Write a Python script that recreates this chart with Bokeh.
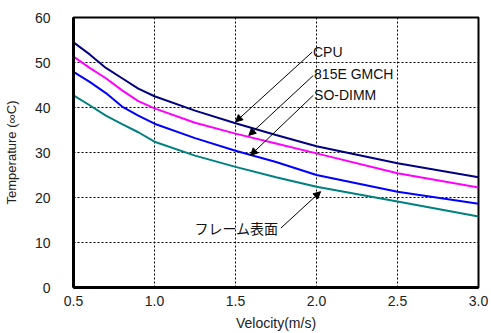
from bokeh.plotting import figure
from bokeh.models import Arrow, NormalHead, Label, FixedTicker, Range1d, CustomJSTickFormatter
from bokeh.embed import file_html
from bokeh.resources import INLINE

velocity = [0.5, 0.6, 0.7, 0.8, 0.9, 1.0, 1.25, 1.5, 1.75, 2.0, 2.5, 3.0]
cpu = [54.5, 51.8, 48.8, 46.5, 44.2, 42.5, 39.3, 36.5, 33.9, 31.4, 27.6, 24.5]
gmch = [51.3, 48.8, 46.5, 43.8, 41.4, 39.8, 36.6, 34.2, 32.0, 29.8, 25.4, 22.2]
sodimm = [47.9, 45.7, 43.2, 40.2, 38.2, 36.4, 33.2, 30.4, 27.9, 25.0, 21.3, 18.6]
frame = [42.7, 40.5, 38.2, 36.3, 34.5, 32.4, 29.3, 26.8, 24.5, 22.4, 19.1, 15.8]
x_ticks = [0.5, 1.0, 1.5, 2.0, 2.5, 3.0]
y_ticks = [0, 10, 20, 30, 40, 50, 60]

FONT = "Liberation Sans"

p = figure(width=491, height=333, output_backend="svg", toolbar_location=None,
           x_range=Range1d(0.5, 3.0), y_range=Range1d(0, 60),
           min_border_left=73, min_border_right=13, min_border_top=17, min_border_bottom=45)

p.line(velocity, cpu, line_color="#000080", line_width=2)
p.line(velocity, gmch, line_color="#FF00FF", line_width=2)
p.line(velocity, sodimm, line_color="#0000FF", line_width=2)
p.line(velocity, frame, line_color="#008080", line_width=2)

p.outline_line_color = "black"
p.outline_line_width = 2
p.outline_line_alpha = 1

p.xaxis.ticker = FixedTicker(ticks=x_ticks)
p.yaxis.ticker = FixedTicker(ticks=y_ticks)
p.xaxis.formatter = CustomJSTickFormatter(code="return tick.toFixed(1);")

for ax in (p.xaxis[0], p.yaxis[0]):
    ax.axis_line_width = 3
    ax.axis_line_color = "black"
    ax.major_tick_out = 0
    ax.major_tick_in = 0
    ax.minor_tick_out = 0
    ax.minor_tick_in = 0
    ax.major_label_text_font = FONT
    ax.major_label_text_font_size = "14px"
    ax.major_label_text_color = "#222222"
    ax.axis_label_text_font = FONT
    ax.axis_label_text_font_style = "normal"
    ax.axis_label_text_color = "#222222"

p.xaxis.axis_label = "Velocity(m/s)"
p.yaxis.axis_label = "Temperature (∞C)"
p.xaxis.axis_label_text_font_size = "14px"
p.yaxis.axis_label_text_font_size = "13px"
p.xaxis.major_label_standoff = 8
p.yaxis.major_label_standoff = 23
p.xaxis.axis_label_standoff = 6
p.yaxis.axis_label_standoff = 13

p.grid.grid_line_color = "black"
p.grid.grid_line_dash = "2 2"
p.grid.grid_line_width = 1
p.xgrid.ticker = FixedTicker(ticks=[1.0, 1.5, 2.0, 2.5])
p.ygrid.ticker = FixedTicker(ticks=[10, 20, 30, 40, 50])

# annotations: label text, text y, arrow start, arrow end
ann_names = ["CPU", "815E GMCH", "SO-DIMM"]
ann_text_y = [52.3, 47.4, 42.7]
ann_start = [(1.973, 52.3), (1.98, 47.1), (1.98, 42.7)]
ann_end = [(1.5, 36.8), (1.582, 33.8), (1.593, 29.4)]

for name, ty, s, e in zip(ann_names, ann_text_y, ann_start, ann_end):
    p.add_layout(Arrow(end=NormalHead(size=7, fill_color="black", line_color="black"),
                       x_start=s[0], y_start=s[1], x_end=e[0], y_end=e[1],
                       line_color="black", line_width=1))
    p.add_layout(Label(x=s[0] + 0.005, y=ty, text=name, text_font=FONT, text_font_size="14px",
                       text_baseline="middle", text_align="left", text_color="#111111"))

p.add_layout(Arrow(end=NormalHead(size=7, fill_color="black", line_color="black"),
                   x_start=1.78, y_start=13.2, x_end=2.025, y_end=21.3,
                   line_color="black", line_width=1))
p.add_layout(Label(x=1.765, y=13.2, text="フレーム表面", text_font="Noto Sans CJK JP",
                   text_font_size="14px", text_baseline="middle", text_align="right",
                   text_color="#111111"))

open("out.html", "w").write(file_html(p, INLINE))
